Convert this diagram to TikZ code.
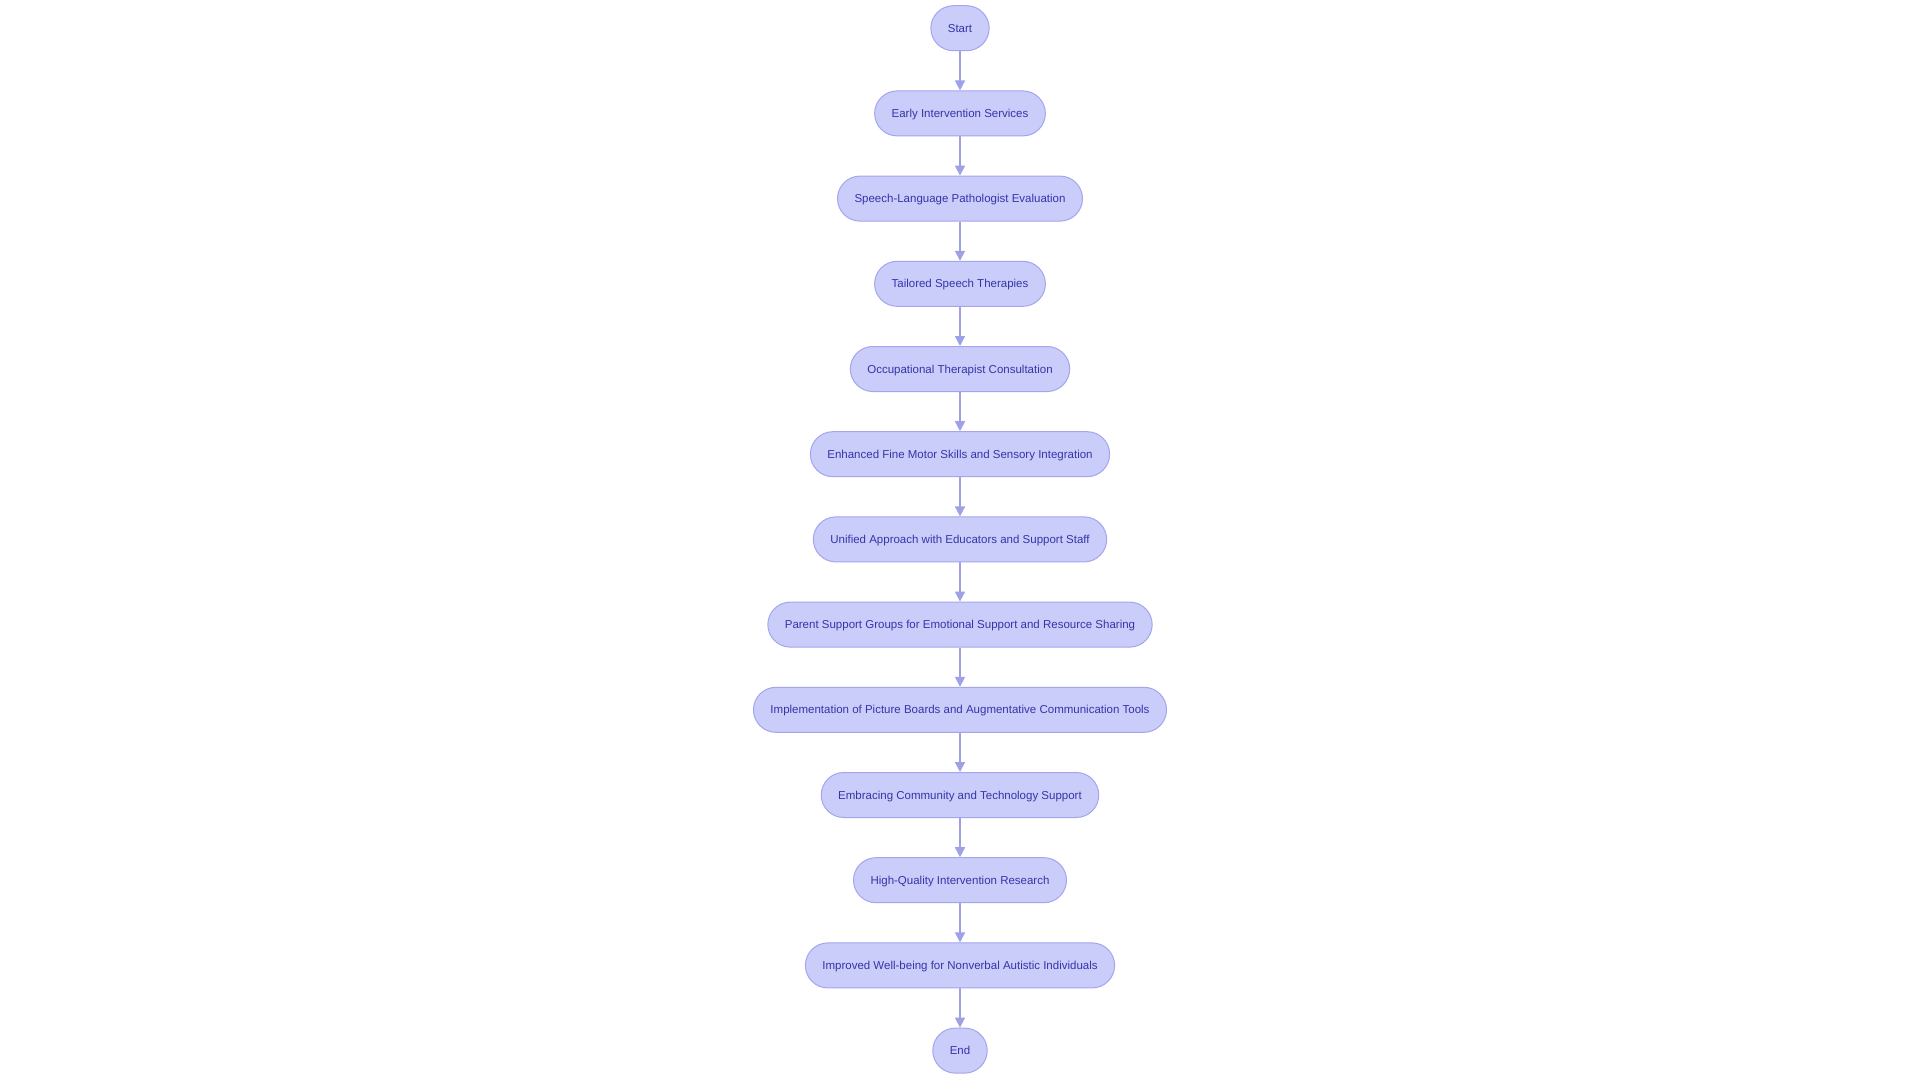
\documentclass[tikz,border=0pt]{standalone}
\usepackage{fontspec}
\setmainfont{Liberation Sans}
\usetikzlibrary{arrows.meta}
\definecolor{nodefill}{HTML}{CACCFA}
\definecolor{nodedraw}{HTML}{A3A6EC}
\definecolor{nodetext}{HTML}{3535A8}
\definecolor{edgecol}{HTML}{9EA1E6}
\begin{document}
\begin{tikzpicture}[x=1pt,y=-1pt,
  flowbox/.style={draw=nodedraw, line width=1pt, fill=nodefill, rounded corners=22.5pt,
    minimum height=45pt, inner xsep=17pt, inner ysep=0pt, text=nodetext,
    text height=8.3pt, text depth=0pt,
    font=\fontsize{11.5}{14}\selectfont},
  flowedge/.style={draw=edgecol, line width=1.6pt, -{Triangle[length=10pt,width=10pt]}}]
\useasboundingbox (0,0) rectangle (1920,1080);
\fill[white] (0,0) rectangle (1920,1080);
\node[flowbox] (n0) at (960,28.2) {Start};
\node[flowbox] (n1) at (960,113.4) {Early Intervention Services};
\node[flowbox] (n2) at (960,198.6) {Speech-Language Pathologist Evaluation};
\node[flowbox] (n3) at (960,283.8) {Tailored Speech Therapies};
\node[flowbox] (n4) at (960,369.0) {Occupational Therapist Consultation};
\node[flowbox] (n5) at (960,454.2) {Enhanced Fine Motor Skills and Sensory Integration};
\node[flowbox] (n6) at (960,539.4) {Unified Approach with Educators and Support Staff};
\node[flowbox] (n7) at (960,624.6) {Parent Support Groups for Emotional Support and Resource Sharing};
\node[flowbox] (n8) at (960,709.8) {Implementation of Picture Boards and Augmentative Communication Tools};
\node[flowbox] (n9) at (960,795.0) {Embracing Community and Technology Support};
\node[flowbox] (n10) at (960,880.2) {High-Quality Intervention Research};
\node[flowbox] (n11) at (960,965.4) {Improved Well-being for Nonverbal Autistic Individuals};
\node[flowbox] (n12) at (960,1050.6) {End};
\foreach \a/\b in {n0/n1,n1/n2,n2/n3,n3/n4,n4/n5,n5/n6,n6/n7,n7/n8,n8/n9,n9/n10,n10/n11,n11/n12}
  \draw[flowedge] (\a.south) -- (\b.north);
\end{tikzpicture}
\end{document}
